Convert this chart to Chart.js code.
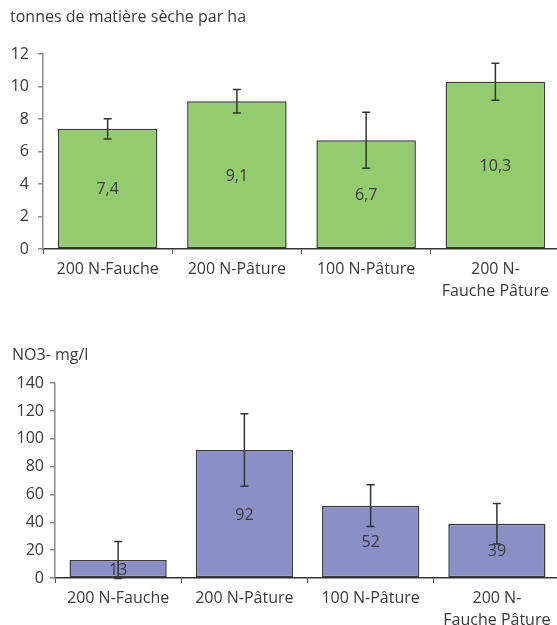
<!DOCTYPE html>
<html>
<head>
<meta charset="utf-8">
<script src="https://cdn.jsdelivr.net/npm/chart.js@4/dist/chart.umd.min.js"></script>
<style>
  html, body { margin: 0; padding: 0; background: #fff; overflow: hidden; width: 557px; height: 625px; }
  .box { position: absolute; left: 0; width: 560px; }
  #topBox { top: 0; height: 310px; }
  #bottomBox { top: 325px; height: 305px; }
</style>
</head>
<body>
<div class="box" id="topBox"><canvas id="yieldChart"></canvas></div>
<div class="box" id="bottomBox"><canvas id="nitrateChart"></canvas></div>
<script>
// Treatments (shared by both charts)
const categories = [
  '200 N-Fauche',
  '200 N-Pâture',
  '100 N-Pâture',
  ['200 N-', 'Fauche Pâture']
];

// Dry matter yield, t/ha, with error (±)
const yieldValues = [7.4, 9.1, 6.7, 10.3];
const yieldErrors = [0.63, 0.72, 1.73, 1.14];
const yieldTicks = [0, 2, 4, 6, 8, 10, 12];

// Nitrate concentration, mg/l, with error (±)
const nitrateValues = [13, 92, 52, 39];
const nitrateErrors = [13.3, 26, 15, 14.5];
const nitrateTicks = [0, 20, 40, 60, 80, 100, 120, 140];

const FONT = '"Open Sans", "Noto Sans", sans-serif';
const TEXT = '#3a3a3a';
const SIZE = 16;

const frNumber = v => String(v).replace('.', ',');

// Draws the value inside each bar, then its error bar on top
const errorBarsAndLabels = {
  id: 'errorBarsAndLabels',
  afterDatasetsDraw(chart, args, opts) {
    const { ctx } = chart;
    const y = chart.scales.y;
    const meta = chart.getDatasetMeta(0);
    const values = chart.data.datasets[0].data;
    ctx.save();
    meta.data.forEach((bar, i) => {
      const v = values[i];
      ctx.fillStyle = TEXT;
      ctx.font = SIZE + 'px ' + FONT;
      ctx.textAlign = 'center';
      ctx.textBaseline = 'middle';
      ctx.fillText(frNumber(v), bar.x, (y.getPixelForValue(v) + y.getPixelForValue(0)) / 2 + 1);

      const e = opts.errors[i];
      const yt = y.getPixelForValue(v + e);
      const yb = y.getPixelForValue(v - e);
      ctx.strokeStyle = '#333';
      ctx.lineWidth = 1.5;
      ctx.beginPath();
      ctx.moveTo(bar.x, yt); ctx.lineTo(bar.x, yb);
      ctx.moveTo(bar.x - 4, yt); ctx.lineTo(bar.x + 4, yt);
      ctx.moveTo(bar.x - 4, yb); ctx.lineTo(bar.x + 4, yb);
      ctx.stroke();
    });
    ctx.restore();
  }
};

function makeChart(canvasId, cfg) {
  return new Chart(document.getElementById(canvasId), {
    type: 'bar',
    data: {
      labels: categories,
      datasets: [{
        data: cfg.values,
        backgroundColor: cfg.fill,
        borderColor: '#3a3a3a',
        borderWidth: 1.5,
        borderSkipped: false,
        barPercentage: 0.77,
        categoryPercentage: 1
      }]
    },
    options: {
      responsive: true,
      maintainAspectRatio: false,
      animation: false,
      layout: { padding: { left: cfg.padLeft, right: 0, top: 0, bottom: 0 } },
      plugins: {
        legend: { display: false },
        tooltip: { enabled: false },
        title: {
          display: true,
          text: cfg.title,
          align: 'start',
          color: TEXT,
          font: { family: FONT, size: SIZE, weight: 'normal', lineHeight: 1.2 },
          padding: cfg.titlePad
        },
        errorBarsAndLabels: { errors: cfg.errors }
      },
      scales: {
        x: {
          grid: { drawOnChartArea: false, drawTicks: true, tickLength: 5, color: '#555', lineWidth: 1 },
          border: { display: true, color: '#333', width: 1.5 },
          ticks: {
            color: TEXT,
            padding: 5,
            maxRotation: 0,
            autoSkip: false,
            font: { family: FONT, size: SIZE, lineHeight: 1.35 }
          },
          afterFit: s => { s.height = cfg.xHeight; }
        },
        y: {
          min: 0,
          max: cfg.ticks[cfg.ticks.length - 1],
          grid: { drawOnChartArea: false, drawTicks: true, tickLength: 5, color: '#8a8a8a', lineWidth: 1.5 },
          border: { display: true, color: '#8a8a8a', width: 1.5 },
          ticks: {
            color: TEXT,
            padding: cfg.yPad,
            font: { family: FONT, size: SIZE }
          },
          afterBuildTicks: s => { s.ticks = cfg.ticks.map(v => ({ value: v })); },
          afterFit: s => { s.width = cfg.yWidth; }
        }
      }
    },
    plugins: [errorBarsAndLabels]
  });
}

makeChart('yieldChart', {
  title: 'tonnes de matière sèche par ha',
  values: yieldValues,
  errors: yieldErrors,
  ticks: yieldTicks,
  fill: '#93cb6e',
  padLeft: 10,
  yWidth: 33,
  yPad: 9,
  titlePad: { top: 8, bottom: 27 },
  xHeight: 61
});

makeChart('nitrateChart', {
  title: 'NO3- mg/l',
  values: nitrateValues,
  errors: nitrateErrors,
  ticks: nitrateTicks,
  fill: '#8a8fc6',
  padLeft: 12,
  yWidth: 43,
  yPad: 6,
  titlePad: { top: 21, bottom: 18 },
  xHeight: 52
});
</script>
</body>
</html>
